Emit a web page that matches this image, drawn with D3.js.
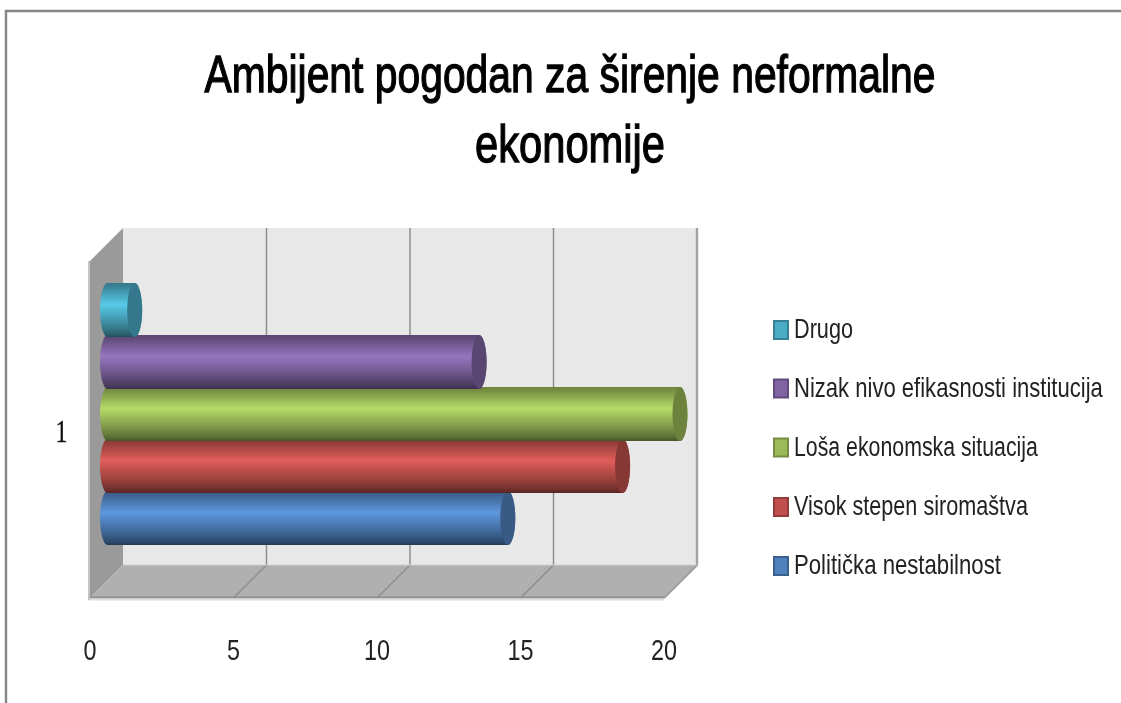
<!DOCTYPE html>
<html><head><meta charset="utf-8">
<script src="https://cdn.jsdelivr.net/npm/d3@7/dist/d3.min.js"></script>
<style>html,body{margin:0;padding:0;background:#fff}svg{display:block}</style>
</head><body><svg id="c" width="1121" height="703"></svg>
<script>
const titleLines = ["Ambijent pogodan za širenje neformalne", "ekonomije"];
const seriesNames = ["Politička nestabilnost", "Visok stepen siromaštva", "Loša ekonomska situacija", "Nizak nivo efikasnosti institucija", "Drugo"];
const seriesValues = [14, 18, 20, 13, 1];
const seriesColors = ["#4f81bd", "#c0504d", "#9bbb59", "#8064a2", "#4bacc6"];
const tickValues = [0, 5, 10, 15, 20];
const categoryLabel = "1";

const svg = d3.select("#c");
const defs = svg.append("defs");
defs.append("filter").attr("id", "soft")
  .attr("filterUnits", "userSpaceOnUse").attr("primitiveUnits", "userSpaceOnUse")
  .attr("x", 0).attr("y", 0).attr("width", 1121).attr("height", 703)
  .append("feGaussianBlur").attr("stdDeviation", 0.45);
const root = svg.append("g").attr("filter", "url(#soft)");

const depth = 33;
const x = d3.scaleLinear().domain([0, 20]).range([90, 664]);
const y = d3.scaleBand().domain(seriesNames).range([543, 283]);
const floorY = 598, topY = 228;
const narrow = "'Liberation Sans Narrow','Liberation Sans'";

// draws text anchored at (px,py) and stretches it horizontally to a target width
function fitted(str, px, py, width, size, family, fill, anchor, extra) {
  const t = root.append("text").attr("font-family", family).attr("font-size", size).attr("fill", fill)
    .attr("text-anchor", anchor).text(str);
  if (extra) t.attr("stroke", fill).attr("stroke-width", extra).attr("paint-order", "stroke");
  const natural = t.node().getComputedTextLength();
  t.attr("transform", `translate(${px},${py}) scale(${width / natural},1)`);
  return t;
}

// frame
root.append("path").attr("d", "M6,710V11H1130").attr("fill", "#fff").attr("stroke", "#868686").attr("stroke-width", 2.4);

// walls
root.append("path").attr("fill", "#e8e8e8")
  .attr("d", `M${x(0)+depth},${topY}H${x(20)+depth}V${floorY-depth}H${x(0)+depth}Z`);
root.append("path").attr("fill", "#9a9a9a")
  .attr("d", `M${x(0)},${topY+depth}L${x(0)+depth},${topY}V${floorY-depth}L${x(0)},${floorY}Z`);
root.append("path").attr("fill", "#b0b0b0")
  .attr("d", `M${x(0)},${floorY}L${x(0)+depth},${floorY-depth}H${x(20)+depth}L${x(20)},${floorY}Z`);

// edges & gridlines
tickValues.slice(1).forEach(t => {
  const last = t === 20;
  root.append("path").attr("fill", "none").attr("stroke", last ? "#a2a2a2" : "#8e8e8e").attr("stroke-width", last ? 2.4 : 1.5)
    .attr("d", `M${x(t)},${floorY}L${x(t)+depth},${floorY-depth}V${topY}`);
});
root.append("line").attr("x1", x(0)).attr("x2", x(20)).attr("y1", floorY-0.5).attr("y2", floorY-0.5).attr("stroke", "#8e8e8e").attr("stroke-width", 2);
root.append("line").attr("x1", x(0)-1).attr("x2", x(20)).attr("y1", floorY+1.5).attr("y2", floorY+1.5).attr("stroke", "#dcdcdc").attr("stroke-width", 2);
root.append("line").attr("x1", x(0)-1).attr("x2", x(0)-1).attr("y1", topY+depth).attr("y2", floorY+2).attr("stroke", "#c4c4c4").attr("stroke-width", 2);
root.append("line").attr("x1", x(0)+depth).attr("x2", x(20)+depth).attr("y1", floorY-depth).attr("y2", floorY-depth).attr("stroke", "#d0d0d0").attr("stroke-width", 1);

// cylinders: lower series first, each upper one slightly overlapping it
const capRx = 7.5, zeroX = 16, overlap = 2;
seriesNames.forEach((name, i) => {
  const col = d3.color(seriesColors[i]);
  const g = defs.append("linearGradient").attr("id", "g" + i).attr("x1", 0).attr("x2", 0).attr("y1", 0).attr("y2", 1);
  [[0, col.darker(1.0)], [0.08, col.darker(0.7)], [0.40, col.brighter(0.45)], [0.75, col.darker(0.6)], [0.93, col.darker(1.5)], [1, col.darker(2.2)]]
    .forEach(([o, c]) => g.append("stop").attr("offset", o).attr("stop-color", c));
});
root.selectAll("g.bar").data(seriesNames.map((n, i) => ({n, v: seriesValues[i], c: seriesColors[i], i})))
  .join("g").attr("class", "bar")
  .each(function(d) {
    const s = d3.select(this);
    const top = y(d.n), h = y.bandwidth() + overlap, ry = h / 2, cy = top + ry;
    const x0 = x(0) + zeroX + 1.5, x1 = x(d.v) + zeroX;
    s.append("path").attr("fill", `url(#g${d.i})`)
      .attr("d", `M${x0},${top}H${x1}A${capRx},${ry} 0 0 1 ${x1},${top+h}H${x0}A${capRx},${ry} 0 0 1 ${x0},${top}Z`);
    s.append("ellipse").attr("cx", x1).attr("cy", cy).attr("rx", capRx).attr("ry", ry)
      .attr("fill", d3.color(d.c).darker(1));
  });

// axis labels
tickValues.forEach(t => {
  const s = String(t);
  fitted(s, x(t), 660, s.length * 13, 29, narrow, "#222", "middle");
});
fitted(categoryLabel, 61.5, 441.5, 12, 31, "Liberation Serif", "#111", "middle", 0.3);

// title
fitted(titleLines[0], 570, 92, 731, 52, narrow, "#050505", "middle", 1.3);
fitted(titleLines[1], 570, 162, 190, 52, narrow, "#050505", "middle", 1.3);

// legend
const legendEnds = [1001, 1028, 1038, 1103, 853];
const legendCentres = [566, 507, 447.5, 388.5, 330];
seriesNames.forEach((n, i) => {
  const col = d3.color(seriesColors[i]), c = legendCentres[i];
  root.append("rect").attr("x", 774).attr("y", c - 9).attr("width", 14).attr("height", 18)
    .attr("fill", col).attr("stroke", col.darker(0.8)).attr("stroke-width", 2);
  fitted(n, 794, c + 8, legendEnds[i] - 794, 27, narrow, "#222", "start");
});
</script></body></html>
